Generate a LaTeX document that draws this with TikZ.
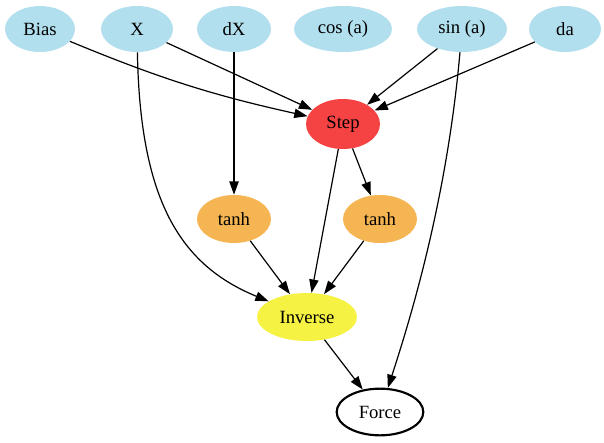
\documentclass[tikz,border=0pt]{standalone}
\usepackage{fontspec}
\setmainfont{Liberation Serif}
\usetikzlibrary{shapes.geometric,arrows.meta}

\definecolor{azul}{HTML}{B2DFEE}
\definecolor{rojo}{HTML}{F54242}
\definecolor{naranja}{HTML}{F5B553}
\definecolor{amarillo}{HTML}{F5F244}

\begin{document}
\begin{tikzpicture}[x=0.75pt, y=-0.75pt, font=\fontsize{14}{16}\selectfont,
    nodo/.style={ellipse, inner sep=0pt, minimum height=34.5pt},
    flecha/.style={-{Triangle[length=10pt, width=7pt]}, line width=0.9pt}]
    \useasboundingbox (0,0) rectangle (604,443);

    % Definición de los nodos
    \node[nodo, fill=azul, minimum width=52.5pt] (bias) at (40, 29) {Bias};
    \node[nodo, fill=azul, minimum width=54pt] (x) at (137, 29) {X};
    \node[nodo, fill=azul, minimum width=55.5pt] (dx) at (234, 29) {dX};
    \node[nodo, fill=azul, minimum width=73.5pt] (cosa) at (343, 29) {cos (a)};
    \node[nodo, fill=azul, minimum width=67.5pt] (sina) at (462, 29) {sin (a)};
    \node[nodo, fill=azul, minimum width=54pt] (da) at (565, 29) {da};
    \node[nodo, fill=rojo, minimum width=55.5pt, minimum height=37.5pt] (step) at (343, 124) {Step};
    \node[nodo, fill=naranja, minimum width=55.5pt, minimum height=36pt] (tanhl) at (234, 219) {tanh};
    \node[nodo, fill=naranja, minimum width=55.5pt, minimum height=36pt] (tanhr) at (380, 219) {tanh};
    \node[nodo, fill=amarillo, minimum width=75pt, minimum height=36pt] (inverse) at (307, 317) {Inverse};
    \node[nodo, draw, line width=1.6pt, minimum width=65pt, minimum height=35pt] (force) at (380, 412) {Force};

    % Definición de las aristas
    \draw[flecha] (bias) to[bend right=5] (step);
    \draw[flecha] (x) -- (step);
    \draw[flecha] (sina) -- (step);
    \draw[flecha] (da) -- (step);
    \draw[flecha] (dx) -- (tanhl);
    \draw[flecha] (x) .. controls (140, 200) and (180, 265) .. (inverse);
    \draw[flecha] (sina) .. controls (447, 200) and (410, 320) .. (force);
    \draw[flecha] (step) -- (tanhr);
    \draw[flecha] (step) -- (inverse);
    \draw[flecha] (tanhl) -- (inverse);
    \draw[flecha] (tanhr) -- (inverse);
    \draw[flecha] (inverse) -- (force);
\end{tikzpicture}
\end{document}
